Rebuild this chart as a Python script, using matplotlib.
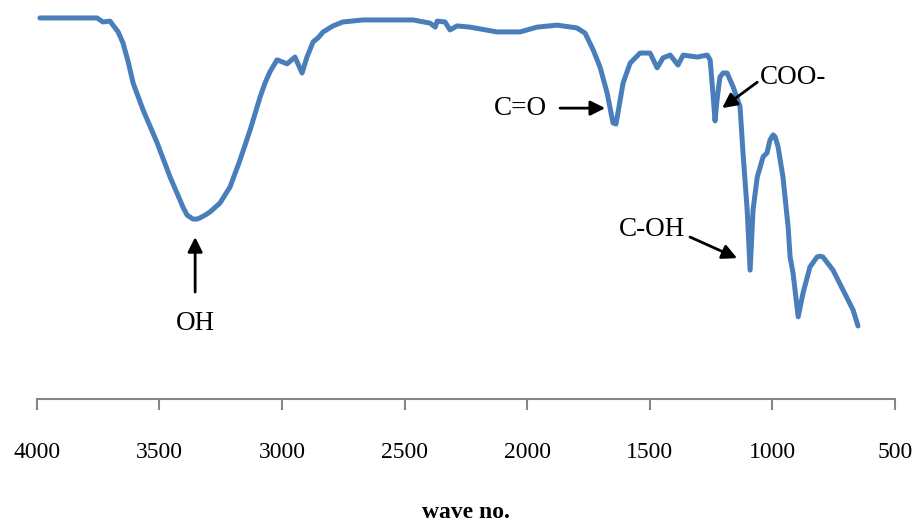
import matplotlib
matplotlib.use("Agg")
import matplotlib.pyplot as plt

# FTIR spectrum: wavenumber (cm-1) and relative transmittance
wavenumber = [3987, 3754, 3730, 3701, 3689, 3668, 3648, 3627, 3607, 3566,
              3509, 3456, 3416, 3403, 3387, 3375, 3363, 3346, 3334, 3313,
              3293, 3253, 3212, 3171, 3130, 3089, 3069, 3049, 3020, 2979,
              2947, 2918, 2898, 2873, 2853, 2832, 2792, 2751, 2669, 2465,
              2396, 2375, 2367, 2335, 2315, 2286, 2233, 2123, 2029, 1960,
              1878, 1797, 1764, 1731, 1703, 1674, 1662, 1650, 1638, 1630,
              1621, 1609, 1580, 1540, 1499, 1470, 1446, 1417, 1385, 1364,
              1307, 1266, 1254, 1242, 1234, 1226, 1214, 1201, 1185, 1160,
              1132, 1120, 1103, 1091, 1079, 1062, 1038, 1022, 1010, 997,
              989, 977, 957, 936, 928, 916, 895, 875, 847, 818,
              806, 794, 753, 712, 671, 651]
transmittance = [95.5, 95.5, 94.5, 94.7, 93.7, 92.0, 89.2, 84.5, 79.2, 72.4,
                 64.2, 55.6, 49.9, 48.0, 46.1, 45.6, 45.1, 45.1, 45.4, 46.1,
                 46.9, 49.1, 53.1, 59.9, 67.4, 75.7, 79.2, 82.0, 85.0, 84.0,
                 85.7, 81.7, 85.7, 89.5, 90.5, 92.0, 93.5, 94.5, 95.0, 95.0,
                 94.2, 93.2, 94.7, 94.5, 92.5, 93.5, 93.2, 92.0, 92.0, 93.2,
                 93.7, 93.0, 91.7, 87.5, 83.2, 76.7, 72.9, 69.2, 68.9, 71.7,
                 74.9, 79.2, 84.2, 86.7, 86.7, 83.0, 85.5, 86.2, 83.7, 86.2,
                 85.7, 86.2, 85.0, 76.2, 69.7, 74.9, 80.7, 81.7, 81.7, 78.2,
                 73.2, 61.7, 47.4, 32.3, 47.4, 55.6, 60.7, 61.7, 64.9, 66.2,
                 65.7, 63.2, 55.6, 43.1, 35.6, 31.6, 20.6, 26.6, 33.1, 35.6,
                 35.8, 35.6, 32.3, 27.3, 22.3, 18.3]

tick_values = [4000, 3500, 3000, 2500, 2000, 1500, 1000, 500]
x_label = "wave no."

# Band assignments: (label, arrow tip, arrow tail, label position)
band_labels = ["OH", "C=O", "COO-", "C-OH"]
arrow_tips = [(3354, 40.6), (1682, 72.9), (1205, 72.9), (1144, 35.3)]
arrow_tails = [(3354, 26.8), (1866, 72.9), (1062, 79.4), (1336, 40.6)]
label_pos = [(3354, 19.0), (2029, 72.9), (1050, 80.7), (1491, 42.4)]
label_align = ["center", "center", "left", "center"]

serif = ["Liberation Serif", "DejaVu Serif"]

fig = plt.figure(figsize=(9.18, 5.22), dpi=100)
ax = fig.add_axes([0.040, 0.2356, 0.935, 0.7644])

ax.plot(wavenumber, transmittance, color="#4a7ebb", lw=3.6,
        solid_joinstyle="round", solid_capstyle="round")

ax.set_xlim(4000, 500)
ax.set_ylim(0, 100)
ax.set_xticks(tick_values)
ax.set_xticklabels([str(v) for v in tick_values], fontfamily=serif, fontsize=17)
ax.set_yticks([])
for side in ("top", "right", "left"):
    ax.spines[side].set_visible(False)
ax.spines["bottom"].set_color("#868686")
ax.spines["bottom"].set_linewidth(1.5)
ax.tick_params(axis="x", direction="out", length=8, width=1.5,
               color="#868686", pad=23)
ax.set_xlabel(x_label, fontfamily=serif, fontsize=17, fontweight="bold",
              labelpad=28)

for lab, tip, tail, pos, ha in zip(band_labels, arrow_tips, arrow_tails,
                                   label_pos, label_align):
    ax.annotate("", xy=tip, xytext=tail,
                arrowprops=dict(arrowstyle="-|>", color="black", lw=2,
                                mutation_scale=22, shrinkA=0, shrinkB=0))
    ax.text(pos[0], pos[1], lab, ha=ha, va="center", fontfamily=serif,
            fontsize=19.5)

fig.savefig("out.png", dpi=100)
